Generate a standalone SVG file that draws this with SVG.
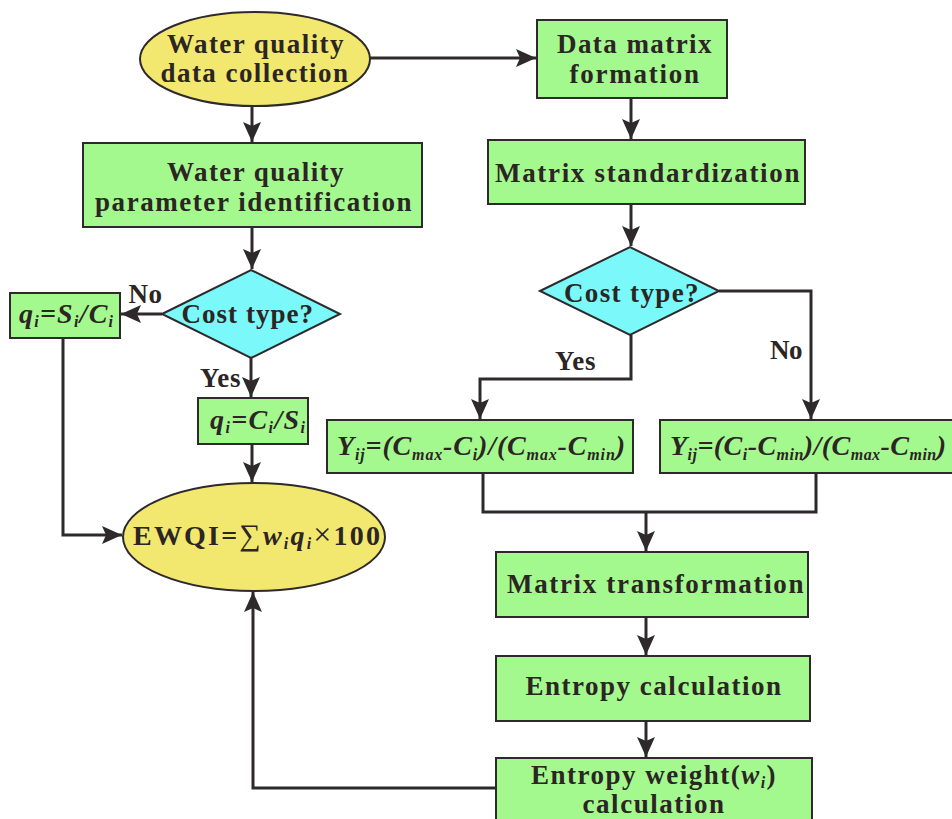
<svg xmlns="http://www.w3.org/2000/svg" width="952" height="819" viewBox="0 0 952 819">
<defs>
<style>
.box{fill:#a4f98e;stroke:#2e2a2b;stroke-width:2}
.ell{fill:#f3e86f;stroke:#2e2a2b;stroke-width:2}
.dia{fill:#7bf8fa;stroke:#2e2a2b;stroke-width:2}
.t{font-family:"Liberation Serif","Times New Roman",serif;font-weight:bold;font-size:27px;fill:#2b2523;text-anchor:middle;letter-spacing:1.5px}
.f{font-family:"Liberation Serif","Times New Roman",serif;font-weight:bold;font-style:italic;font-size:28px;fill:#2b2523}
.s{font-size:16px}
.u{font-style:normal}
.c{fill:none;stroke:#2e2a2b;stroke-width:3}
</style>
<marker id="ah" markerUnits="userSpaceOnUse" markerWidth="22" markerHeight="18" refX="20" refY="9" orient="auto">
<path d="M0,0 L20,9 L0,18 L4,9 z" fill="#2e2a2b"/>
</marker>
</defs>
<rect width="952" height="819" fill="#ffffff"/>

<g id="connectors">
<path class="c" d="M370,58 L536,58" marker-end="url(#ah)"/>
<path class="c" d="M252,106 L252,142" marker-end="url(#ah)"/>
<path class="c" d="M631,98 L631,139" marker-end="url(#ah)"/>
<path class="c" d="M631,204 L631,246" marker-end="url(#ah)"/>
<path class="c" d="M631,335 L631,379 L480,379 L480,419" marker-end="url(#ah)"/>
<path class="c" d="M719,291 L811,291 L811,419" marker-end="url(#ah)"/>
<path class="c" d="M483,473 L483,512 L816,512 L816,473"/>
<path class="c" d="M646,512 L646,551" marker-end="url(#ah)"/>
<path class="c" d="M646,617 L646,655" marker-end="url(#ah)"/>
<path class="c" d="M646,721 L646,757" marker-end="url(#ah)"/>
<path class="c" d="M496,788 L253,788 L253,592" marker-end="url(#ah)"/>
<path class="c" d="M252,227 L252,269" marker-end="url(#ah)"/>
<path class="c" d="M162,314 L121,314" marker-end="url(#ah)"/>
<path class="c" d="M251,358 L251,397" marker-end="url(#ah)"/>
<path class="c" d="M252,444 L252,482" marker-end="url(#ah)"/>
<path class="c" d="M63,338 L63,535 L122,535" marker-end="url(#ah)"/>
<text class="t" x="146" y="303" textLength="35" lengthAdjust="spacing">No</text>
<text class="t" x="221" y="387" textLength="42" lengthAdjust="spacing">Yes</text>
<text class="t" x="576" y="370" textLength="42" lengthAdjust="spacing">Yes</text>
<text class="t" x="787" y="359" textLength="34" lengthAdjust="spacing">No</text>
</g>

<g id="n-collection">
<ellipse class="ell" cx="255" cy="59" rx="115" ry="47"/>
<text class="t" x="256" y="53" textLength="178" lengthAdjust="spacing">Water quality</text>
<text class="t" x="255" y="82" textLength="189" lengthAdjust="spacing">data collection</text>
</g>

<g id="n-param">
<rect class="box" x="83" y="143" width="339" height="84"/>
<text class="t" x="256" y="181" textLength="178" lengthAdjust="spacing">Water quality</text>
<text class="t" x="254" y="211" textLength="318" lengthAdjust="spacing">parameter identification</text>
</g>

<g id="n-cost-left">
<polygon class="dia" points="162,314 251,270 340,314 251,358"/>
<text class="t" x="248" y="323" textLength="133" lengthAdjust="spacing">Cost type?</text>
</g>

<g id="n-q-no">
<rect class="box" x="10" y="293" width="110" height="45"/>
<text class="f" x="19" y="323" textLength="94" lengthAdjust="spacing">q<tspan class="s" dy="4">i</tspan><tspan dy="-4">=S</tspan><tspan class="s" dy="4">i</tspan><tspan dy="-4">/C</tspan><tspan class="s" dy="4">i</tspan></text>
</g>

<g id="n-q-yes">
<rect class="box" x="198" y="398" width="110" height="46"/>
<text class="f" x="210" y="429" textLength="95" lengthAdjust="spacing">q<tspan class="s" dy="4">i</tspan><tspan dy="-4">=C</tspan><tspan class="s" dy="4">i</tspan><tspan dy="-4">/S</tspan><tspan class="s" dy="4">i</tspan></text>
</g>

<g id="n-ewqi">
<ellipse class="ell" cx="254" cy="537" rx="131" ry="54"/>
<text class="f" x="133" y="545" textLength="247" lengthAdjust="spacing"><tspan class="u">EWQI=</tspan><tspan class="u" font-weight="normal" font-size="30">∑</tspan><tspan>w</tspan><tspan class="s" dy="4">i</tspan><tspan dy="-4">q</tspan><tspan class="s" dy="4">i</tspan><tspan class="u" dy="-4" font-weight="normal" font-size="32">×</tspan><tspan class="u">100</tspan></text>
</g>

<g id="n-datamatrix">
<rect class="box" x="537" y="20" width="190" height="78"/>
<text class="t" x="635" y="53" textLength="156" lengthAdjust="spacing">Data matrix</text>
<text class="t" x="635" y="83" textLength="131" lengthAdjust="spacing">formation</text>
</g>

<g id="n-standard">
<rect class="box" x="488" y="140" width="317" height="64"/>
<text class="t" x="648" y="182" textLength="306" lengthAdjust="spacing">Matrix standardization</text>
</g>

<g id="n-cost-right">
<polygon class="dia" points="540,291 630,247 719,291 630,335"/>
<text class="t" x="632" y="302" textLength="136" lengthAdjust="spacing">Cost type?</text>
</g>

<g id="n-y1">
<rect class="box" x="327" y="420" width="306" height="53"/>
<text class="f" x="337" y="455" textLength="288" lengthAdjust="spacing">Y<tspan class="s" dy="5">ij</tspan><tspan dy="-5">=(C</tspan><tspan class="s" dy="5">max</tspan><tspan dy="-5">-C</tspan><tspan class="s" dy="5">i</tspan><tspan dy="-5">)/(C</tspan><tspan class="s" dy="5">max</tspan><tspan dy="-5">-C</tspan><tspan class="s" dy="5">min</tspan><tspan dy="-5">)</tspan></text>
</g>

<g id="n-y2">
<rect class="box" x="660" y="420" width="300" height="53"/>
<text class="f" x="670" y="455" textLength="276" lengthAdjust="spacing">Y<tspan class="s" dy="5">ij</tspan><tspan dy="-5">=(C</tspan><tspan class="s" dy="5">i</tspan><tspan dy="-5">-C</tspan><tspan class="s" dy="5">min</tspan><tspan dy="-5">)/(C</tspan><tspan class="s" dy="5">max</tspan><tspan dy="-5">-C</tspan><tspan class="s" dy="5">min</tspan><tspan dy="-5">)</tspan></text>
</g>

<g id="n-transform">
<rect class="box" x="496" y="552" width="312" height="65"/>
<text class="t" x="656" y="593" textLength="298" lengthAdjust="spacing">Matrix transformation</text>
</g>

<g id="n-entropy">
<rect class="box" x="496" y="656" width="314" height="65"/>
<text class="t" x="654" y="695" textLength="257" lengthAdjust="spacing">Entropy calculation</text>
</g>

<g id="n-weight">
<rect class="box" x="496" y="758" width="316" height="80"/>
<text class="t" x="654" y="784" font-size="26">Entropy weight(<tspan font-style="italic">w</tspan><tspan font-style="italic" class="s" dy="4">i</tspan><tspan dy="-4">)</tspan></text>
<text class="t" x="654" y="813" font-size="26" textLength="143" lengthAdjust="spacing">calculation</text>
</g>
</svg>
